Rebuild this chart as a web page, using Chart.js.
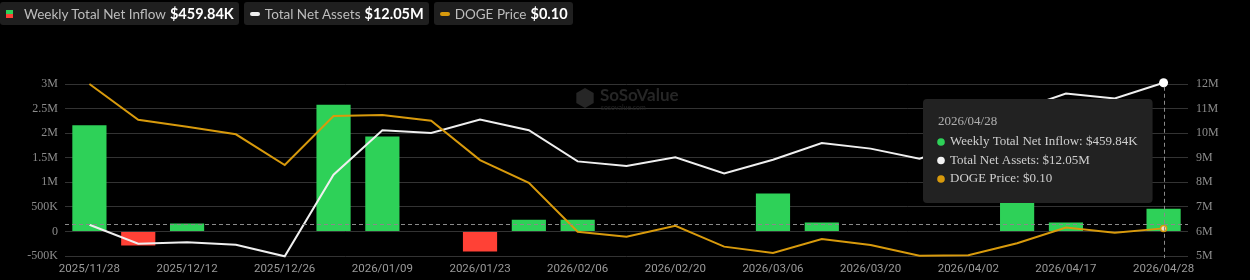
<!DOCTYPE html>
<html>
<head>
<meta charset="utf-8">
<script src="https://cdn.jsdelivr.net/npm/chart.js@4.4.1/dist/chart.umd.min.js"></script>
<style>
  html, body { margin: 0; padding: 0; background: #000; }
  #wrap { position: relative; width: 1250px; height: 280px; overflow: hidden; }
  #chart { position: absolute; left: 0; top: 0; }
  .legend { position: absolute; top: 2px; left: 0; display: flex; gap: 5px; font-family: Lato, sans-serif; }
  .item { background: #1f1f1f; border-radius: 3px; height: 23px; display: flex; align-items: center; padding: 0 5px 0 6px; color: #bdbdbd; font-size: 13.5px; }
  .item b { color: #fff; font-size: 14.5px; margin-left: 4px; }
  .sq { width: 7px; height: 8px; background: linear-gradient(#2ed158 50%, #ff4136 50%); margin-right: 11px; }
  .dash { width: 10px; height: 4px; border-radius: 2px; margin-right: 5px; }
</style>
</head>
<body>
<div id="wrap">
  <canvas id="chart" width="1250" height="280"></canvas>
  <div class="legend" id="legend"></div>
</div>
<script>
// weekly dates (every other one is shown on the axis)
const dates = [
  "2025/11/28", "2025/12/05", "2025/12/12", "2025/12/19", "2025/12/26", "2026/01/02",
  "2026/01/09", "2026/01/16", "2026/01/23", "2026/01/30", "2026/02/06", "2026/02/13",
  "2026/02/20", "2026/02/27", "2026/03/06", "2026/03/13", "2026/03/20", "2026/03/27",
  "2026/04/02", "2026/04/10", "2026/04/17", "2026/04/24", "2026/04/28"
];
// USD
const netInflow = [
  2160000, -285000, 163000, 0, 0, 2580000, 1930000, 0, -410000, 240000, 240000, 0,
  0, 0, 770000, 180000, 0, 0, 0, 600000, 180000, 0, 459840
];
// USD
const netAssets = [
  6270000, 5500000, 5560000, 5460000, 4990000, 8310000, 10120000, 10010000, 10550000, 10120000, 8850000, 8660000,
  9020000, 8360000, 8920000, 9600000, 9370000, 8960000, 9600000, 10930000, 11610000, 11410000, 12050000
];
const dogePrice = [
  0.156, 0.1423, 0.1396, 0.1367, 0.1249, 0.1437, 0.1441, 0.1419, 0.1268, 0.1181, 0.0993, 0.0974,
  0.1016, 0.0936, 0.0912, 0.0965, 0.0942, 0.0901, 0.0903, 0.0949, 0.1009, 0.0989, 0.1006
];

const GREEN = "#2ed158", RED = "#ff4136", WHITE = "#efefef", ORANGE = "#d89a0c";
const last = dates.length - 1;

const money = (v) => {
  const a = Math.abs(v);
  if (a >= 1e6) return "$" + (v / 1e6).toFixed(2) + "M";
  if (a >= 1e3) return "$" + (v / 1e3).toFixed(2) + "K";
  return "$" + v.toFixed(2);
};
const short = (v) => {
  if (v === 0) return "0";
  if (Math.abs(v) >= 1e6) return v / 1e6 + "M";
  return v / 1e3 + "K";
};

// legend
const legend = document.getElementById("legend");
legend.innerHTML =
  `<div class="item"><span class="sq"></span>Weekly Total Net Inflow<b>${money(netInflow[last])}</b></div>` +
  `<div class="item"><span class="dash" style="background:${WHITE}"></span>Total Net Assets<b>${money(netAssets[last])}</b></div>` +
  `<div class="item"><span class="dash" style="background:${ORANGE}"></span>DOGE Price<b>${money(dogePrice[last])}</b></div>`;

const overlay = {
  id: "overlay",
  beforeDatasetsDraw(chart) {
    const c = chart.ctx;
    c.save();
    // watermark
    const wx = 575, wy = 98;
    c.fillStyle = "#262626";
    c.beginPath();
    for (let k = 0; k < 6; k++) {
      const a = Math.PI / 6 + k * Math.PI / 3;
      c.lineTo(wx + 10 + 10 * Math.cos(a), wy + 10 * Math.sin(a));
    }
    c.closePath();
    c.fill();
    c.font = "bold 17px Lato";
    c.textBaseline = "middle";
    c.fillText("SoSoValue", 600, wy - 2);
    c.font = "7px Lato";
    c.fillText("sosovalue.com", 601, wy + 10);
    c.restore();
  },
  afterDraw(chart) {
    const c = chart.ctx;
    const { x, y, yAssets } = chart.scales;
    const area = chart.chartArea;
    const px = x.getPixelForValue(last);
    c.save();
    c.setLineDash([4, 3]);
    c.strokeStyle = "#8a8a8a";
    c.lineWidth = 1;
    // crosshair
    const cy = Math.round(y.getPixelForValue(160000)) + 0.5;
    c.beginPath(); c.moveTo(area.left, cy); c.lineTo(area.right, cy); c.stroke();
    const vx = Math.round(px) + 0.5;
    c.beginPath(); c.moveTo(vx, yAssets.getPixelForValue(netAssets[last]) + 4); c.lineTo(vx, area.bottom + 2); c.stroke();
    c.setLineDash([]);

    // tooltip
    const rows = [
      [GREEN, "Weekly Total Net Inflow: " + money(netInflow[last])],
      ["#f2f2f2", "Total Net Assets: " + money(netAssets[last])],
      [ORANGE, "DOGE Price: " + money(dogePrice[last])]
    ];
    c.font = "13px Liberation Serif, serif";
    const tw = Math.max(...rows.map((r) => c.measureText(r[1]).width));
    const w = 27 + tw + 15, h = 104;
    const bx = px - 11 - w, by = area.top + 15;
    c.fillStyle = "#222222";
    c.beginPath();
    c.roundRect(bx, by, w, h, 4);
    c.fill();
    c.textBaseline = "middle";
    c.fillStyle = "#b0b0b0";
    c.fillText(dates[last], bx + 15, by + 23);
    rows.forEach((r, k) => {
      const ry = by + 43 + k * 18.5;
      c.fillStyle = r[0];
      c.beginPath(); c.arc(bx + 18, ry, 3.8, 0, Math.PI * 2); c.fill();
      c.fillStyle = "#cfcfcf";
      c.fillText(r[1], bx + 27, ry);
    });
    c.restore();
  }
};

const tickFont = { family: "Liberation Serif, serif", size: 12 };

new Chart(document.getElementById("chart"), {
  type: "bar",
  data: {
    labels: dates,
    datasets: [
      {
        type: "line", label: "DOGE Price", data: dogePrice, yAxisID: "yPrice",
        borderColor: ORANGE, borderWidth: 2, tension: 0, clip: false, order: 1,
        pointRadius: dogePrice.map((_, i) => (i === last ? 3 : 0)),
        pointBackgroundColor: "#f3e3c3", pointBorderColor: ORANGE, pointBorderWidth: 1.5
      },
      {
        type: "line", label: "Total Net Assets", data: netAssets, yAxisID: "yAssets",
        borderColor: WHITE, borderWidth: 2, tension: 0, clip: false, order: 2,
        pointRadius: netAssets.map((_, i) => (i === last ? 4.5 : 0)),
        pointBackgroundColor: "#ffffff", pointBorderColor: "#ffffff", pointBorderWidth: 0
      },
      {
        type: "bar", label: "Weekly Total Net Inflow", data: netInflow, yAxisID: "y",
        backgroundColor: netInflow.map((v) => (v < 0 ? RED : GREEN)),
        barPercentage: 0.7, categoryPercentage: 1, order: 3
      }
    ]
  },
  options: {
    responsive: false,
    animation: false,
    layout: { padding: { top: 84, left: 0, right: 0, bottom: 0 } },
    plugins: { legend: { display: false }, tooltip: { enabled: false } },
    scales: {
      x: {
        grid: { display: false, drawTicks: false },
        border: { display: false },
        ticks: {
          autoSkip: false, maxRotation: 0, padding: 6, color: "#9a9a9a",
          font: { family: "Roboto", size: 11.5 },
          callback: (v, i) => (i % 2 === 0 ? dates[i] : "")
        },
        afterFit: (s) => { s.height = 24; }
      },
      y: {
        position: "left", min: -500000, max: 3000000,
        grid: { color: "#333333", drawTicks: false },
        border: { display: false },
        ticks: { stepSize: 500000, padding: 7, color: "#8c8c8c", font: tickFont, callback: short },
        afterFit: (s) => { s.width = 65; }
      },
      yAssets: {
        position: "right", min: 5000000, max: 12000000,
        grid: { display: false, drawTicks: false },
        border: { display: false },
        ticks: { stepSize: 1000000, padding: 8, color: "#8c8c8c", font: tickFont, callback: short },
        afterFit: (s) => { s.width = 62; }
      },
      yPrice: { display: false, min: 0.09, max: 0.156 }
    }
  },
  plugins: [overlay]
});
</script>
</body>
</html>
